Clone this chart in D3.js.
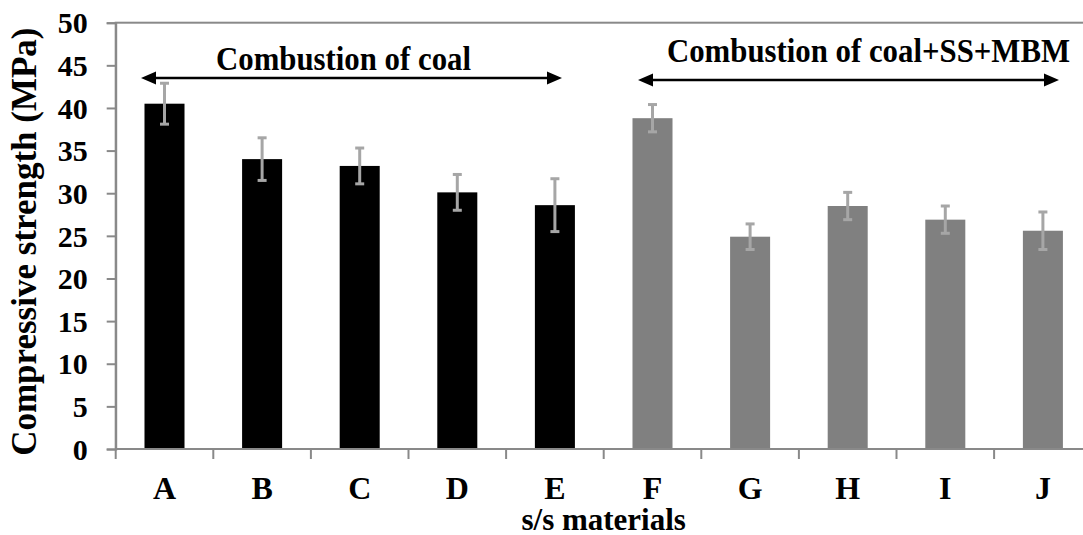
<!DOCTYPE html>
<html>
<head>
<meta charset="utf-8">
<script src="https://cdn.jsdelivr.net/npm/d3@7"></script>
<style>
	body { margin: 0; background: #fff; }
	svg { display: block; }
	text { font-family: "Liberation Serif", "Times New Roman", serif; font-weight: bold; fill: #000; }
</style>
</head>
<body>
<div id="chart"></div>
<script>
// chart data
var categories = ['A', 'B', 'C', 'D', 'E', 'F', 'G', 'H', 'I', 'J'];
var strength = [40.5, 34.0, 33.2, 30.1, 28.6, 38.8, 24.9, 28.5, 26.9, 25.6];
var errors = [2.4, 2.5, 2.1, 2.1, 3.1, 1.6, 1.5, 1.6, 1.6, 2.2];
var groups = ['coal', 'coal', 'coal', 'coal', 'coal', 'mix', 'mix', 'mix', 'mix', 'mix'];
var yTicks = [0, 5, 10, 15, 20, 25, 30, 35, 40, 45, 50];
var groupLabels = ['Combustion of coal', 'Combustion of coal+SS+MBM'];

var width = 1083, height = 535;
// plot area; right edge sits just outside the picture
var plotLeft = 115.7, plotRight = 1091.7, plotTop = 22.7, plotBottom = 449;

var svg = d3.select('#chart').append('svg')
	.attr('width', width)
	.attr('height', height);

var x = d3.scaleBand()
	.domain(categories)
	.range([plotLeft, plotRight])
	.paddingInner(0.59)
	.paddingOuter(0.295);

var y = d3.scaleLinear()
	.domain([0, 50])
	.range([plotBottom, plotTop]);

var colour = d3.scaleOrdinal()
	.domain(['coal', 'mix'])
	.range(['#000000', '#808080']);

var axisColour = '#898989';

// plot border
svg.append('rect')
	.attr('x', plotLeft)
	.attr('y', plotTop)
	.attr('width', plotRight - plotLeft)
	.attr('height', plotBottom - plotTop)
	.attr('fill', 'none')
	.attr('stroke', axisColour)
	.attr('stroke-width', 2);

// bars
svg.append('g').selectAll('rect')
	.data(categories)
	.join('rect')
		.attr('x', function(d) { return x(d); })
		.attr('y', function(d, i) { return y(strength[i]); })
		.attr('width', x.bandwidth())
		.attr('height', function(d, i) { return y(0) - y(strength[i]); })
		.attr('fill', function(d, i) { return colour(groups[i]); });

// error bars
var err = svg.append('g')
	.attr('stroke', '#a6a6a6')
	.attr('stroke-width', 3);
categories.forEach(function(c, i) {
	var cx = x(c) + x.bandwidth() / 2;
	var hi = y(strength[i] + errors[i]);
	var lo = y(strength[i] - errors[i]);
	err.append('line').attr('x1', cx).attr('x2', cx).attr('y1', hi).attr('y2', lo);
	err.append('line').attr('x1', cx - 4.5).attr('x2', cx + 4.5).attr('y1', hi).attr('y2', hi);
	err.append('line').attr('x1', cx - 4.5).attr('x2', cx + 4.5).attr('y1', lo).attr('y2', lo);
});

// y axis
var yAxis = svg.append('g')
	.attr('transform', 'translate(' + plotLeft + ',0)')
	.call(d3.axisLeft(y).tickValues(yTicks).tickSize(9).tickPadding(19));
yAxis.select('.domain').attr('stroke', axisColour).attr('stroke-width', 2);
yAxis.selectAll('.tick line').attr('stroke', axisColour).attr('stroke-width', 2);
yAxis.selectAll('.tick text')
	.attr('font-size', '30px')
	.attr('font-family', '"Liberation Serif", "Times New Roman", serif')
	.attr('font-weight', 'bold')
	.attr('fill', '#000')
	.attr('dy', '0.34em');

// x axis: line, ticks between categories
var xAxis = svg.append('g');
xAxis.append('line')
	.attr('x1', plotLeft).attr('x2', plotRight)
	.attr('y1', plotBottom).attr('y2', plotBottom)
	.attr('stroke', axisColour).attr('stroke-width', 2);
xAxis.selectAll('line.sep')
	.data(d3.range(categories.length + 1))
	.join('line')
		.attr('class', 'sep')
		.attr('x1', function(i) { return plotLeft + i * x.step(); })
		.attr('x2', function(i) { return plotLeft + i * x.step(); })
		.attr('y1', plotBottom).attr('y2', plotBottom + 10)
		.attr('stroke', axisColour).attr('stroke-width', 2);
xAxis.selectAll('text')
	.data(categories)
	.join('text')
		.attr('x', function(d) { return x(d) + x.bandwidth() / 2; })
		.attr('y', 499)
		.attr('text-anchor', 'middle')
		.attr('font-size', '32px')
		.text(function(d) { return d; });

// axis titles
svg.append('text')
	.attr('x', (plotLeft + plotRight) / 2)
	.attr('y', 530)
	.attr('text-anchor', 'middle')
	.attr('font-size', '31px')
	.text('s/s materials');

svg.append('text')
	.attr('transform', 'translate(36,241.7) rotate(-90)')
	.attr('text-anchor', 'middle')
	.attr('font-size', '35px')
	.text('Compressive strength (MPa)');

// group annotations with double headed arrows
var arrowY = [78, 80];
var textY = [70, 62];
var textX = [343.5, 868.5];
var arrowEnds = [[141, 562], [638, 1059]];
groupLabels.forEach(function(label, i) {
	var g = svg.append('g');
	var x1 = arrowEnds[i][0], x2 = arrowEnds[i][1], ay = arrowY[i];
	g.append('line')
		.attr('x1', x1 + 10).attr('x2', x2 - 10)
		.attr('y1', ay).attr('y2', ay)
		.attr('stroke', '#000').attr('stroke-width', 2.5);
	g.append('path')
		.attr('d', 'M' + x1 + ',' + ay + 'L' + (x1 + 15) + ',' + (ay - 6.5) + 'L' + (x1 + 15) + ',' + (ay + 6.5) + 'Z')
		.attr('fill', '#000');
	g.append('path')
		.attr('d', 'M' + x2 + ',' + ay + 'L' + (x2 - 15) + ',' + (ay - 6.5) + 'L' + (x2 - 15) + ',' + (ay + 6.5) + 'Z')
		.attr('fill', '#000');
	g.append('text')
		.attr('transform', 'translate(' + textX[i] + ',' + textY[i] + ') scale(0.92,1)')
		.attr('text-anchor', 'middle')
		.attr('font-size', '33.5px')
		.text(label);
});
</script>
</body>
</html>
